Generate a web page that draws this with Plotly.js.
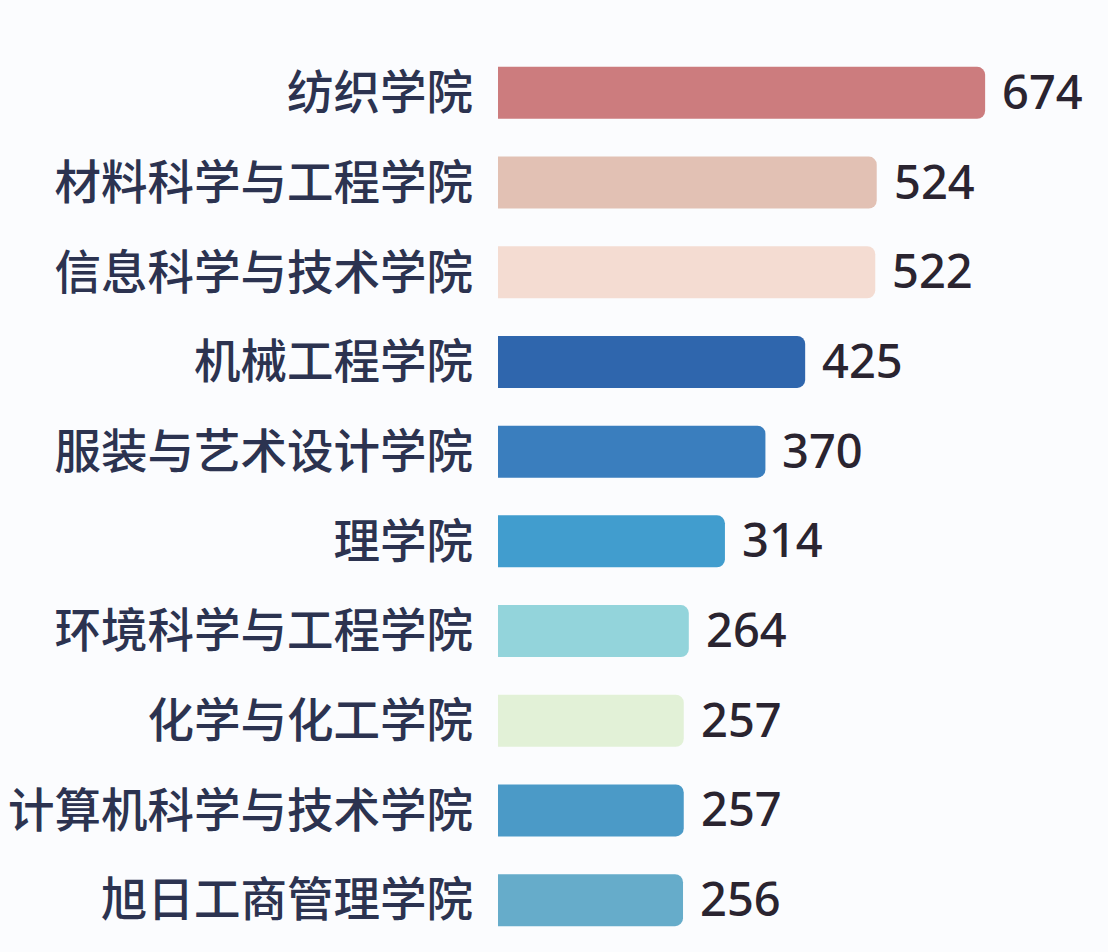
<!DOCTYPE html>
<html>
<head>
<meta charset="utf-8">
<script src="https://cdn.plot.ly/plotly-3.0.1.min.js"></script>
<style>
  html, body { margin: 0; padding: 0; background: #fbfcfe; }
  #plot { width: 1108px; height: 952px; }
</style>
</head>
<body>
<div id="plot"></div>
<script>
// colleges, top to bottom
var colleges = ['纺织学院', '材料科学与工程学院', '信息科学与技术学院', '机械工程学院',
    '服装与艺术设计学院', '理学院', '环境科学与工程学院', '化学与化工学院',
    '计算机科学与技术学院', '旭日工商管理学院'];
var counts = [674, 524, 522, 425, 370, 314, 264, 257, 257, 256];
var barColors = ['#cc7c7e', '#e2c1b4', '#f4dcd2', '#2f66ad', '#3a7ebe',
    '#419dce', '#93d4db', '#e2f1d7', '#4b9ac7', '#66acca'];

var plotlyData = [{
    type: 'bar',
    orientation: 'h',
    x: counts,
    y: colleges,
    marker: { color: barColors, cornerradius: 8, line: { width: 0 } },
    hoverinfo: 'none'
}];

// value labels to the right of each bar
var notes = [];
for (var i = 0; i < colleges.length; ++i) {
    notes.push({
        x: counts[i], y: colleges[i],
        text: String(counts[i]),
        xanchor: 'left', yanchor: 'middle',
        xshift: 15, yshift: 2,
        showarrow: false,
        font: { family: 'Noto Sans, Open Sans, sans-serif', size: 47, weight: 500, color: '#2a2430' }
    });
}

var layout = {
    width: 1108,
    height: 952,
    margin: { l: 498, r: 0, t: 48, b: 7 },
    paper_bgcolor: '#fbfcfe',
    plot_bgcolor: '#fbfcfe',
    bargap: 0.42,
    showlegend: false,
    xaxis: {
        range: [0, 844],
        showgrid: false,
        zeroline: false,
        showline: false,
        showticklabels: false
    },
    yaxis: {
        autorange: 'reversed',
        showgrid: false,
        zeroline: false,
        showline: false,
        ticks: '',
        ticklabelstandoff: 24,
        tickfont: { family: 'Noto Sans CJK SC, sans-serif', size: 46.5, weight: 500, color: '#2c3350' }
    },
    annotations: notes
};

Plotly.newPlot(document.getElementById('plot'), plotlyData, layout, { displayModeBar: false, staticPlot: true });
</script>
</body>
</html>
